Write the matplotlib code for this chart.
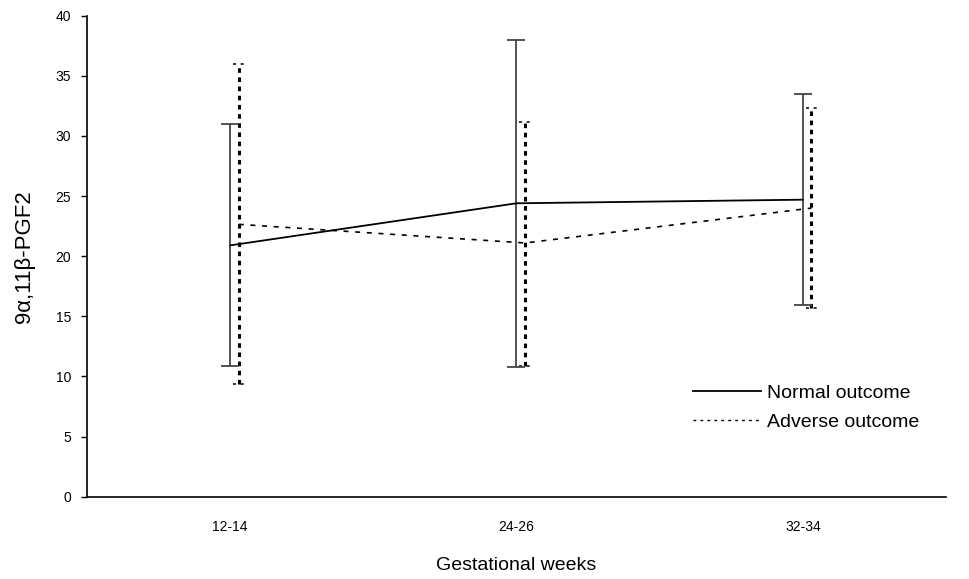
import numpy as np
import matplotlib
matplotlib.use('Agg')
import matplotlib.pyplot as plt
from matplotlib.lines import Line2D

plt.rcParams['font.family'] = ['Liberation Sans', 'DejaVu Sans']

# data
weeks = ['12-14', '24-26', '32-34']

normal_mean = [20.9, 24.4, 24.7]
normal_low = [10.9, 10.8, 15.95]
normal_high = [31.0, 38.0, 33.45]

adverse_mean = [22.65, 21.1, 24.0]
adverse_low = [9.4, 10.9, 15.7]
adverse_high = [36.0, 31.15, 32.3]

x = np.arange(len(weeks))
x_adv = x + 0.03
adv_ls = (0, (3, 4))

fig = plt.figure(figsize=(9.7, 5.79), dpi=100)
ax = fig.add_axes([87 / 970, 1 - 496.7 / 579, 859 / 970, 481 / 579])

# normal outcome: solid line, solid error bars
nm = np.array(normal_mean)
ax.errorbar(x, nm, yerr=[nm - np.array(normal_low), np.array(normal_high) - nm],
            color='black', ecolor='#444444', elinewidth=1.3, capsize=6.5,
            capthick=1.3, lw=1.3, zorder=3)

# adverse outcome: dashed line, dotted bars with dashed caps
ax.plot(x_adv, adverse_mean, color='black', lw=1.2, ls=adv_ls, zorder=3)
ax.vlines(x_adv, adverse_low, adverse_high, color='black', lw=2.2,
          linestyles=(0, (1.5, 1.5)), zorder=2)
ax.hlines(adverse_low, x_adv - 0.02, x_adv + 0.02, color='black', lw=1.1,
          linestyles=(0, (2, 3)))
ax.hlines(adverse_high, x_adv - 0.02, x_adv + 0.02, color='black', lw=1.1,
          linestyles=(0, (2, 3)))

ax.set_xlim(-0.5, 2.5)
ax.set_ylim(0, 40)
ax.set_yticks(range(0, 41, 5))
ax.set_xticks(x)
ax.set_xticklabels(weeks)

for s in ['top', 'right']:
    ax.spines[s].set_visible(False)
ax.spines['left'].set_linewidth(1.2)
ax.spines['bottom'].set_linewidth(1.2)

ax.tick_params(axis='y', direction='out', length=4.5, width=1, labelsize=10, pad=7)
ax.tick_params(axis='x', length=0, labelsize=10, pad=17)

ax.set_xlabel('Gestational weeks', fontsize=14)
ax.xaxis.set_label_coords(0.5, -0.125)
ax.set_ylabel('9\u03b1,11\u03b2-PGF2', fontsize=16)
ax.yaxis.set_label_coords(-0.06, 0.5)

handles = [Line2D([], [], color='black', lw=1.3),
           Line2D([], [], color='black', lw=1.0, ls=(0, (2, 3)))]
ax.legend(handles, ['Normal outcome', 'Adverse outcome'],
          loc='upper left', bbox_to_anchor=(693 / 970, 1 - 384 / 579),
          bbox_transform=fig.transFigure, frameon=False, fontsize=14,
          handlelength=3.5, handletextpad=0.3, borderpad=0, borderaxespad=0,
          labelspacing=0.62)

fig.savefig('out.png', dpi=100)
